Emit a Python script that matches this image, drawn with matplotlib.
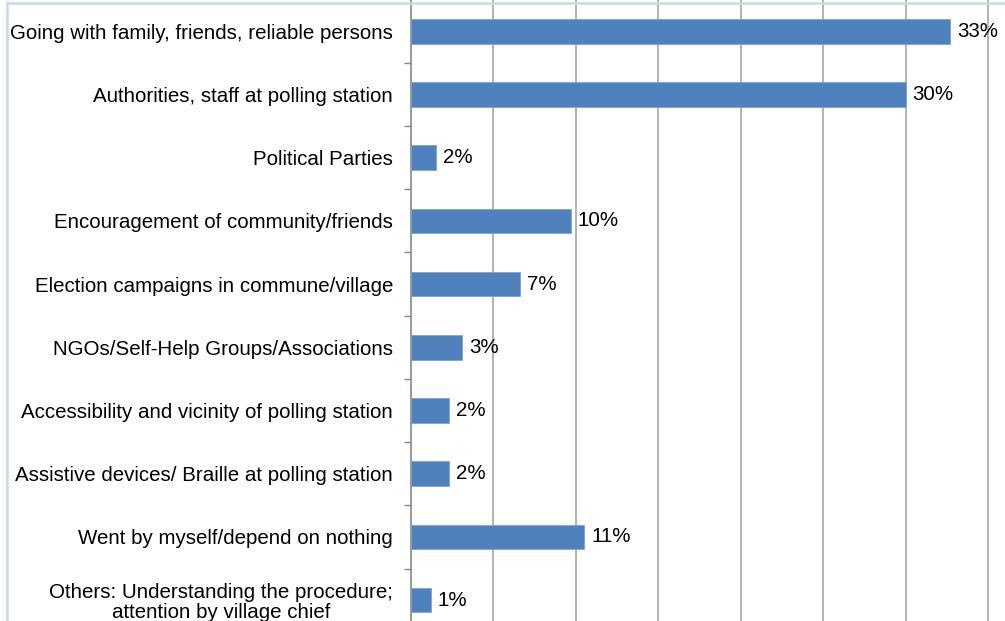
import matplotlib.pyplot as plt
from matplotlib.lines import Line2D
import numpy as np

categories = [
    "Going with family, friends, reliable persons",
    "Authorities, staff at polling station",
    "Political Parties",
    "Encouragement of community/friends",
    "Election campaigns in commune/village",
    "NGOs/Self-Help Groups/Associations",
    "Accessibility and vicinity of polling station",
    "Assistive devices/ Braille at polling station",
    "Went by myself/depend on nothing",
    "Others: Understanding the procedure;\nattention by village chief",
]
values = [32.7, 30.0, 1.5, 9.7, 6.6, 3.1, 2.3, 2.3, 10.5, 1.2]
value_labels = ["33%", "30%", "2%", "10%", "7%", "3%", "2%", "2%", "11%", "1%"]


def main():
    plt.rcParams["font.family"] = ["Liberation Sans", "DejaVu Sans"]
    W, H = 1005, 621
    fig = plt.figure(figsize=(W / 100, H / 100), dpi=100)

    # plot area (partly cropped at the bottom, like the source image)
    left_px, top_px, spacing = 411, -0.3, 63.2
    n = len(categories)
    height_px = spacing * n
    ax = fig.add_axes([left_px / W, 1 - (top_px + height_px) / H,
                       (W - left_px) / W, height_px / H])

    y = np.arange(n)
    ax.barh(y, values, height=0.39, color="#4F81BD", edgecolor="#7FA3D0",
            linewidth=0.6, zorder=3)
    for yi, v, lab in zip(y, values, value_labels):
        ax.annotate(lab, (v, yi), xytext=(5, 0), textcoords="offset points",
                    va="center", ha="left", fontsize=14.8, color="black")

    ax.set_xlim(0, (W - left_px) / 16.49)
    ax.set_ylim(n - 0.5, -0.5)
    ax.set_xticks(np.arange(5, 40, 5))
    ax.xaxis.grid(True, color="#A6A6A6", linewidth=1.2, zorder=0)
    ax.tick_params(axis="x", length=0, labelbottom=False)

    ax.set_yticks(y)
    ax.set_yticklabels(categories, fontsize=14.8, multialignment="center",
                       linespacing=1.05)
    ax.set_yticks(np.arange(0.5, n, 1), minor=True)
    ax.tick_params(axis="y", which="major", length=0, pad=13)
    ax.tick_params(axis="y", which="minor", length=5, color="#868686", width=1)

    for s in ["top", "right", "bottom"]:
        ax.spines[s].set_visible(False)
    ax.spines["left"].set_color("#868686")
    ax.spines["left"].set_linewidth(1.2)

    # light outline of the chart frame
    fig.add_artist(Line2D([7 / W, 7 / W], [0, 1 - 3 / H], color="#C6D9F1",
                          linewidth=1.8))
    fig.add_artist(Line2D([7 / W, 1], [1 - 3 / H, 1 - 3 / H], color="#C6D9F1",
                          linewidth=1.8))

    plt.savefig("out.png", dpi=100)


if __name__ == "__main__":
    main()
